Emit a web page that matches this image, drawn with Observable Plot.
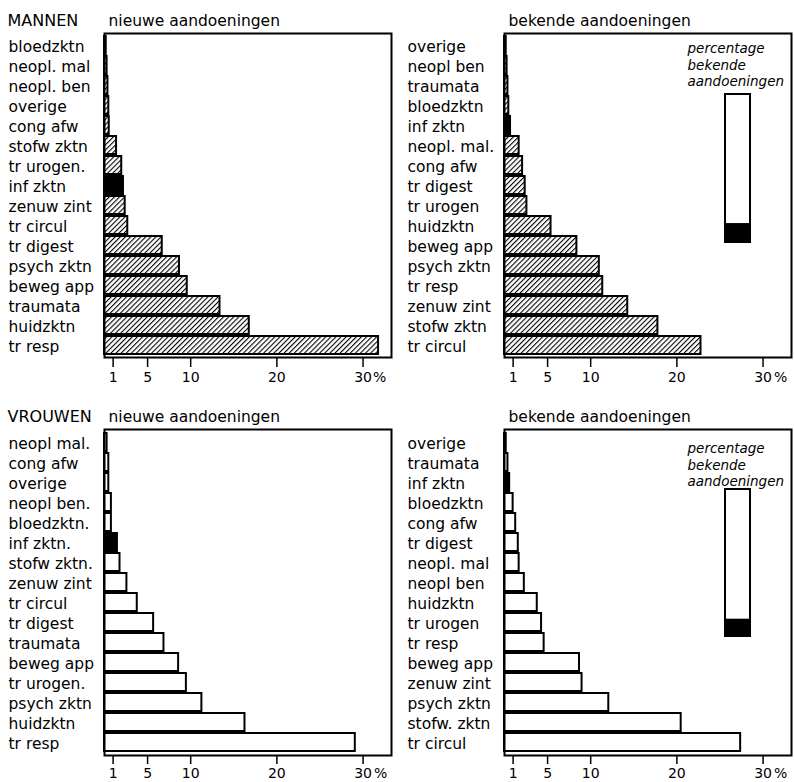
<!DOCTYPE html>
<html><head><meta charset="utf-8">
<script src="https://cdn.jsdelivr.net/npm/d3@7"></script>
<script src="https://cdn.jsdelivr.net/npm/@observablehq/plot@0.6"></script>
<style>
body{margin:0;background:#fff;}
#root{position:relative;width:794px;height:782px;overflow:hidden;background:#fff;}
#root > *{position:absolute;}
</style></head><body>
<svg width="0" height="0" style="position:absolute;left:0;top:0">
<defs><pattern id="hatch" patternUnits="userSpaceOnUse" width="3.6" height="3.6" patternTransform="rotate(45)">
<rect width="3.6" height="3.6" fill="white"/>
<line x1="0.5" y1="0" x2="0.5" y2="3.6" stroke="black" stroke-width="1.2"/>
</pattern></defs></svg>
<div id="root"></div>
<script>
// ---- data ----
const xTicks = [1, 5, 10, 20, 30];
const xMax = 33.3;

const menNewCats = ["bloedzktn","neopl. mal","neopl. ben","overige","cong afw","stofw zktn","tr urogen.","inf zktn","zenuw zint","tr circul","tr digest","psych zktn","beweg app","traumata","huidzktn","tr resp"];
const menNewVals = [0.2, 0.3, 0.4, 0.5, 0.55, 1.4, 2.0, 2.2, 2.4, 2.7, 6.7, 8.7, 9.6, 13.4, 16.8, 31.8];

const menKnownCats = ["overige","neopl ben","traumata","bloedzktn","inf zktn","neopl. mal.","cong afw","tr digest","tr urogen","huidzktn","beweg app","psych zktn","tr resp","zenuw zint","stofw zktn","tr circul"];
const menKnownVals = [0.2, 0.3, 0.4, 0.5, 0.7, 1.7, 2.1, 2.4, 2.6, 5.4, 8.4, 11.0, 11.4, 14.3, 17.8, 22.8];

const womenNewCats = ["neopl mal.","cong afw","overige","neopl ben.","bloedzktn.","inf zktn.","stofw zktn.","zenuw zint","tr circul","tr digest","traumata","beweg app","tr urogen.","psych zktn","huidzktn","tr resp"];
const womenNewVals = [0.3, 0.5, 0.5, 0.8, 0.8, 1.5, 1.8, 2.6, 3.8, 5.7, 6.9, 8.6, 9.5, 11.3, 16.3, 29.1];

const womenKnownCats = ["overige","traumata","inf zktn","bloedzktn","cong afw","tr digest","neopl. mal","neopl ben","huidzktn","tr urogen","tr resp","beweg app","zenuw zint","psych zktn","stofw. zktn","tr circul"];
const womenKnownVals = [0.2, 0.4, 0.6, 1.0, 1.3, 1.6, 1.7, 2.3, 3.8, 4.3, 4.6, 8.7, 9.0, 12.1, 20.5, 27.4];

const menKnownPct = 12;
const womenKnownPct = 11;

const blackCats = ["inf zktn", "inf zktn."];
const insetLines = ["percentage", "bekende", "aandoeningen"];

// ---- drawing ----
const root = document.getElementById("root");
const FONT = "DejaVu Sans";

function panel(o) {
  const data = o.cats.map((c, i) => ({cat: c, val: o.vals[i]}));
  const marks = [
    Plot.barX(data, {x: "val", y: "cat",
      fill: d => blackCats.includes(d.cat) ? "black" : o.fill,
      stroke: "black", strokeWidth: 2}),
    Plot.frame({stroke: "black", strokeWidth: 2}),
    Plot.axisY({label: null, tickSize: 0, tickPadding: 0, textAnchor: "start", dx: o.labelDx, dy: 1.5, fill: "black"}),
    Plot.axisX({label: null, ticks: xTicks, tickSize: o.tickSize, tickPadding: o.tickPadding, tickFormat: d => String(d), strokeWidth: 1.5, fill: "black", fontSize: 14}),
    Plot.text([30], {x: d => d, text: () => "%", frameAnchor: "bottom", dy: o.tickSize + o.tickPadding, dx: o.pctDx, textAnchor: "start", lineAnchor: "top", fill: "black", fontSize: 14}),
    Plot.text([o.title], {text: d => d, frameAnchor: "top-left", dx: 4, dy: -8, textAnchor: "start", lineAnchor: "bottom", fill: "black"})
  ];
  if (o.group) marks.push(Plot.text([o.group], {text: d => d, frameAnchor: "top-left", dx: -97, dy: -8, textAnchor: "start", lineAnchor: "bottom", fontSize: 16, fill: "black"}));
  if (o.inset) marks.push(Plot.text([insetLines.join("\n")], {text: d => d, frameAnchor: "top-left", dx: 183, dy: o.insetDy, textAnchor: "start", lineAnchor: "top", fontSize: 13.5, fontStyle: "italic", lineHeight: 1.22, fill: "black"}));
  const chart = Plot.plot({
    width: o.width, height: o.height,
    marginTop: o.mt, marginBottom: o.mb, marginLeft: 104, marginRight: o.mr,
    style: {fontFamily: FONT, fontSize: "15.5px", color: "black", background: "transparent", overflow: "visible"},
    x: {domain: [0, xMax], axis: null, label: null},
    y: {domain: o.cats, axis: null, label: null, paddingInner: 0.08, paddingOuter: 0.04},
    color: {type: "identity"},
    marks
  });
  chart.style.left = o.left + "px";
  chart.style.top = o.top + "px";
  root.appendChild(chart);
}

function inset(pct, left, top, w, h) {
  const segs = [{part: "rest", y1: pct, y2: 100}, {part: "known", y1: 0, y2: pct}];
  const chart = Plot.plot({
    width: w + 4, height: h + 4, margin: 2,
    style: {background: "transparent", overflow: "visible"},
    x: {domain: ["p"], axis: null, padding: 0},
    y: {domain: [0, 100], axis: null},
    color: {type: "identity"},
    marks: [Plot.barY(segs, {x: () => "p", y1: "y1", y2: "y2",
      fill: d => d.part === "known" ? "black" : "white", stroke: "black", strokeWidth: 2})]
  });
  chart.style.left = left + "px";
  chart.style.top = top + "px";
  root.appendChild(chart);
}

panel({cats: menNewCats, vals: menNewVals, left: 0, top: 0, width: 400, height: 396, mt: 33, mb: 39, mr: 9,
  fill: "url(#hatch)", title: "nieuwe aandoeningen", group: "MANNEN", labelDx: -96, tickSize: 10, tickPadding: 5, pctDx: 10});
panel({cats: menKnownCats, vals: menKnownVals, left: 400, top: 0, width: 394, height: 396, mt: 33, mb: 39, mr: 3,
  fill: "url(#hatch)", title: "bekende aandoeningen", labelDx: -97, tickSize: 10, tickPadding: 5, pctDx: 11, inset: true, insetDy: 8});
panel({cats: womenNewCats, vals: womenNewVals, left: 0, top: 396, width: 400, height: 386, mt: 33, mb: 27, mr: 9,
  fill: "white", title: "nieuwe aandoeningen", group: "VROUWEN", labelDx: -96, tickSize: 9, tickPadding: 4, pctDx: 11});
panel({cats: womenKnownCats, vals: womenKnownVals, left: 400, top: 396, width: 394, height: 386, mt: 33, mb: 27, mr: 3,
  fill: "white", title: "bekende aandoeningen", labelDx: -97, tickSize: 9, tickPadding: 4, pctDx: 11, inset: true, insetDy: 12});

inset(menKnownPct, 723, 92, 25, 148);
inset(womenKnownPct, 723, 487, 25, 147);
</script>
</body></html>
